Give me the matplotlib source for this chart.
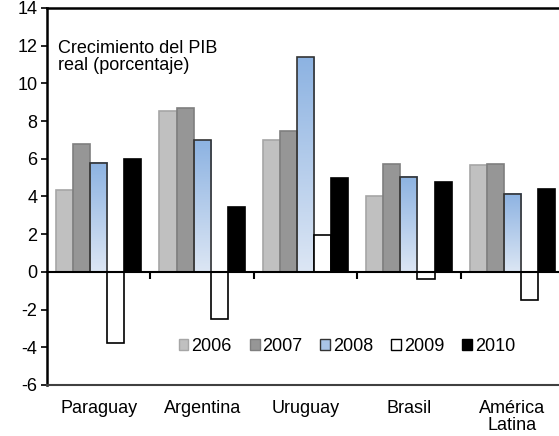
import numpy as np
import matplotlib
matplotlib.use("Agg")
import matplotlib.pyplot as plt
from matplotlib.colors import LinearSegmentedColormap
from matplotlib.patches import Patch

plt.rcParams["font.family"] = ["Liberation Sans", "DejaVu Sans"]
plt.rcParams["axes.unicode_minus"] = False

countries = ["Paraguay", "Argentina", "Uruguay", "Brasil", "América\nLatina"]
years = ["2006", "2007", "2008", "2009", "2010"]
g2006 = [4.35, 8.55, 7.0, 4.0, 5.65]
g2007 = [6.8, 8.7, 7.45, 5.7, 5.7]
g2008 = [5.8, 7.0, 11.4, 5.05, 4.15]
g2009 = [-3.75, -2.5, 1.95, -0.4, -1.5]
g2010 = [6.0, 3.45, 5.0, 4.75, 4.4]

series = [g2006, g2007, g2008, g2009, g2010]
faces = ["#c0c0c0", "#969696", "#8db3e2", "#ffffff", "#000000"]
edges = ["#a6a6a6", "#7f7f7f", "#333333", "#000000", "#000000"]

fig = plt.figure(figsize=(5.59, 4.36), dpi=100)
ax = fig.add_axes([0.0841, 0.117, 0.925, 0.8647])

x = np.arange(len(countries))
w = 0.165
blue = LinearSegmentedColormap.from_list("b", ["#dce6f4", "#8db3e2"])
grad = np.linspace(0, 1, 100).reshape(-1, 1)

for i, vals in enumerate(series):
    pos = x + (i - 2) * w
    bars = ax.bar(pos, vals, w, color=faces[i], edgecolor=edges[i],
                  linewidth=1.2, zorder=2)
    if years[i] == "2008":
        for b, v in zip(bars, vals):
            b.set_facecolor("none")
            x0 = b.get_x()
            ax.imshow(grad, cmap=blue, aspect="auto", origin="lower",
                      extent=(x0, x0 + w, 0, v), zorder=1.5)

ax.set_xlim(-0.5, len(countries) - 0.5)
ax.set_ylim(-6, 14)
ax.set_yticks(range(-6, 15, 2))
ax.tick_params(axis="y", direction="out", length=4, width=1.2, labelsize=13, pad=3)
ax.set_xticks(x)
ax.set_xticklabels(countries, fontsize=13, linespacing=1.0)
ax.tick_params(axis="x", length=0, pad=11)

for s in ["left", "top"]:
    ax.spines[s].set_linewidth(1.8)
    ax.spines[s].set_color("black")
ax.spines["bottom"].set_color("#404040")
ax.spines["bottom"].set_linewidth(1.5)
ax.spines["right"].set_visible(False)

# zero line with category separators
zero = ax.secondary_xaxis(6 / 20)
zero.set_xticks(x[:-1] + 0.5)
zero.set_xticklabels([])
zero.tick_params(direction="out", length=5, width=1.5)
zero.spines["bottom"].set_linewidth(1.5)
zero.set_zorder(3)

ax.text(0.022, 0.915, "Crecimiento del PIB\nreal (porcentaje)", transform=ax.transAxes,
        fontsize=13, va="top", ha="left", linespacing=1.0)

handles = [Patch(facecolor=faces[i] if years[i] != "2008" else "#a9c4e8",
                 edgecolor=edges[i], linewidth=1.0) for i in range(len(years))]
ax.legend(handles, years, loc="center", bbox_to_anchor=(0.58, 0.103), ncol=5,
          frameon=False, fontsize=13, handlelength=0.55, handleheight=0.55,
          handletextpad=0.15, columnspacing=1.0)

fig.savefig("out.png", dpi=100)
